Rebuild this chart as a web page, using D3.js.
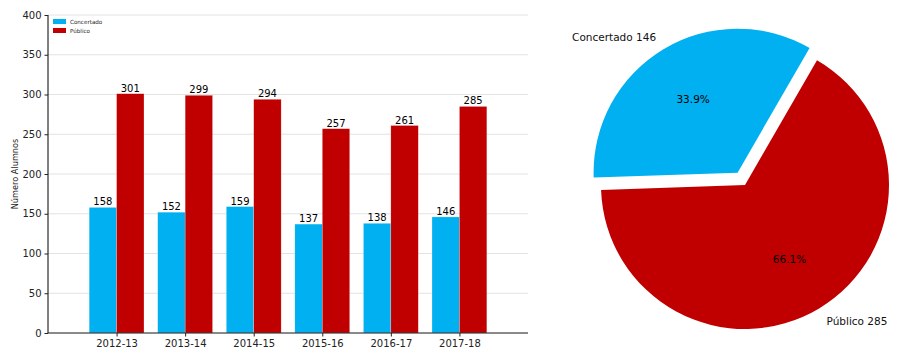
<!DOCTYPE html>
<html><head><meta charset="utf-8">
<script src="https://cdn.jsdelivr.net/npm/d3@7"></script>
<style>body{margin:0;background:#fff}svg{display:block}text{font-family:"DejaVu Sans",sans-serif}</style>
</head><body>
<svg id="c" width="904" height="349"></svg>
<script>
const categories = ["2012-13","2013-14","2014-15","2015-16","2016-17","2017-18"];
const concertado = [158,152,159,137,138,146];
const publico = [301,299,294,257,261,285];
const yTicks = [0,50,100,150,200,250,300,350,400];
const pieLabels = ["Concertado","Público"];
const pieValues = [146,285];
const colors = ["#00B0F0","#C00000"];

const svg = d3.select("#c");
const L = 48, R = 528, T = 15, B = 333;
const x = d3.scaleLinear().domain([-1, categories.length]).range([L, R]);
const y = d3.scaleLinear().domain([0, 400]).range([B, T]);
const unit = x(1) - x(0);
const bw = 0.4 * unit;

// grid
svg.append("g").selectAll("line").data(yTicks).join("line")
  .attr("x1", L).attr("x2", R).attr("y1", d => y(d)).attr("y2", d => y(d))
  .attr("stroke", "#dcdcdc").attr("stroke-width", 0.8);

// bars
const series = [concertado, publico];
series.forEach((vals, si) => {
  const off = si === 0 ? -bw : 0;
  svg.append("g").selectAll("rect").data(vals).join("rect")
    .attr("x", (d, i) => x(i) + off).attr("width", bw)
    .attr("y", d => y(d)).attr("height", d => y(0) - y(d))
    .attr("fill", colors[si]).attr("stroke", "#ffffff").attr("stroke-width", 0.4).attr("stroke-opacity", 0.6);
  svg.append("g").selectAll("text").data(vals).join("text")
    .attr("x", (d, i) => x(i) + off + bw / 2).attr("y", d => y(d) - 2)
    .attr("text-anchor", "middle").attr("font-size", 10).attr("fill", "#000").text(d => d);
});

// axes
const yAxis = d3.axisLeft(y).tickValues(yTicks).tickSize(3.5).tickPadding(3);
const gy = svg.append("g").attr("transform", `translate(${L},0)`).call(yAxis);
gy.select(".domain").attr("d", `M0,${T}V${B}`).attr("stroke", "#000").attr("stroke-width", 1);
gy.selectAll("text").attr("font-size", 10).attr("fill", "#222").attr("font-family", "DejaVu Sans");
gy.selectAll(".tick line").attr("stroke", "#222");

const xAxis = d3.axisBottom(x).tickValues(d3.range(categories.length)).tickFormat(i => categories[i]).tickSize(3.5).tickPadding(3);
const gx = svg.append("g").attr("transform", `translate(0,${B})`).call(xAxis);
gx.select(".domain").attr("d", `M${L},0H${R}`).attr("stroke", "#222").attr("stroke-width", 1);
gx.selectAll("text").attr("font-size", 10).attr("fill", "#222").attr("font-family", "DejaVu Sans");
gx.selectAll(".tick line").attr("stroke", "#222");

svg.append("text").attr("transform", `translate(18,${(T + B) / 2}) rotate(-90)`)
  .attr("text-anchor", "middle").attr("font-size", 8.2).attr("fill", "#222").text("Número Alumnos");

// legend
const leg = svg.append("g").attr("transform", "translate(53,19)");
pieLabels.forEach((lab, i) => {
  leg.append("rect").attr("x", 0).attr("y", i * 9).attr("width", 13).attr("height", 5).attr("fill", colors[i]);
  leg.append("text").attr("x", 17).attr("y", i * 9 + 5).attr("font-size", 5.6).attr("fill", "#222").text(lab);
});

// pie
const cx = 745, cy = 185, r = 144;
const total = d3.sum(pieValues);
const startDeg = 60;
let acc = startDeg;
const slices = pieValues.map((v, i) => {
  const a0 = acc, a1 = acc + v / total * 360; acc = a1;
  return { v, i, a0, a1 };
});
const toRad = d => d * Math.PI / 180;
slices.forEach(s => {
  const mid = toRad((s.a0 + s.a1) / 2);
  const ex = s.i === 0 ? 0.1 * r : 0;
  const ox = cx + ex * Math.cos(mid), oy = cy - ex * Math.sin(mid);
  const arc = d3.arc().innerRadius(0).outerRadius(r)
    .startAngle(Math.PI / 2 - toRad(s.a1)).endAngle(Math.PI / 2 - toRad(s.a0));
  svg.append("path").attr("transform", `translate(${ox},${oy})`).attr("d", arc()).attr("fill", colors[s.i]);
  const pct = (s.v / total * 100).toFixed(1) + "%";
  svg.append("text").attr("x", ox + 0.6 * r * Math.cos(mid)).attr("y", oy - 0.6 * r * Math.sin(mid))
    .attr("text-anchor", "middle").attr("dominant-baseline", "central").attr("font-size", 10.5).attr("fill", "#000").text(pct);
  const lx = ox + 1.1 * r * Math.cos(mid), ly = oy - 1.1 * r * Math.sin(mid);
  svg.append("text").attr("x", lx).attr("y", ly)
    .attr("text-anchor", Math.cos(mid) < 0 ? "end" : "start").attr("dominant-baseline", "central")
    .attr("font-size", 10.5).attr("fill", "#111").text(pieLabels[s.i] + " " + s.v);
});
</script>
</body></html>
